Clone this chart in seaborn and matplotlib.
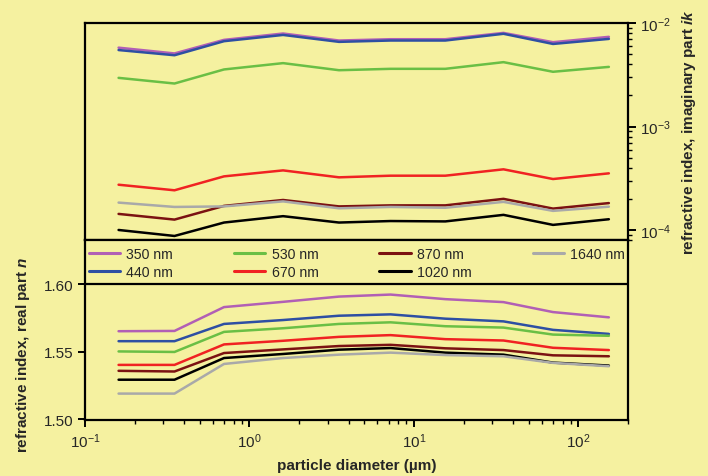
import numpy as np
import pandas as pd
import matplotlib
matplotlib.use("Agg")
import matplotlib.pyplot as plt
import seaborn as sns
from matplotlib.ticker import LogLocator, FixedLocator, FormatStrFormatter

# ---------------- data ----------------
diameter = [0.16, 0.35, 0.70, 1.6, 3.5, 7.2, 15.5, 35, 70, 153]
wavelengths = ["350 nm", "440 nm", "530 nm", "670 nm", "870 nm", "1020 nm", "1640 nm"]

k_350 = [5.8e-3, 5.1e-3, 6.9e-3, 7.95e-3, 6.8e-3, 7.0e-3, 7.0e-3, 8.06e-3, 6.55e-3, 7.38e-3]
k_440 = [5.5e-3, 4.9e-3, 6.7e-3, 7.7e-3, 6.6e-3, 6.8e-3, 6.8e-3, 7.9e-3, 6.3e-3, 7.05e-3]
k_530 = [2.96e-3, 2.61e-3, 3.57e-3, 4.11e-3, 3.51e-3, 3.62e-3, 3.62e-3, 4.2e-3, 3.39e-3, 3.78e-3]
k_670 = [2.74e-4, 2.42e-4, 3.3e-4, 3.77e-4, 3.23e-4, 3.35e-4, 3.35e-4, 3.86e-4, 3.11e-4, 3.53e-4]
k_870 = [1.43e-4, 1.26e-4, 1.71e-4, 1.95e-4, 1.69e-4, 1.73e-4, 1.73e-4, 2.0e-4, 1.61e-4, 1.82e-4]
k_1020 = [1.0e-4, 8.75e-5, 1.18e-4, 1.36e-4, 1.18e-4, 1.22e-4, 1.21e-4, 1.4e-4, 1.12e-4, 1.27e-4]
k_1640 = [1.84e-4, 1.67e-4, 1.69e-4, 1.89e-4, 1.62e-4, 1.67e-4, 1.64e-4, 1.87e-4, 1.53e-4, 1.68e-4]

n_350 = [1.5652, 1.5654, 1.5831, 1.5870, 1.5909, 1.5924, 1.5890, 1.5868, 1.5794, 1.5755]
n_440 = [1.5578, 1.5578, 1.5706, 1.5735, 1.5767, 1.5777, 1.5745, 1.5725, 1.5662, 1.5632]
n_530 = [1.5502, 1.5498, 1.5647, 1.5674, 1.5706, 1.5718, 1.5689, 1.5679, 1.5627, 1.5618]
n_670 = [1.5402, 1.5402, 1.5554, 1.5581, 1.5610, 1.5623, 1.5593, 1.5583, 1.5529, 1.5512]
n_870 = [1.5358, 1.5353, 1.5490, 1.5517, 1.5542, 1.5551, 1.5525, 1.5512, 1.5473, 1.5466]
n_1020 = [1.5292, 1.5292, 1.5453, 1.5483, 1.5515, 1.5527, 1.5493, 1.5478, 1.5419, 1.5397]
n_1640 = [1.5189, 1.5189, 1.5409, 1.5453, 1.5478, 1.5493, 1.5475, 1.5466, 1.5417, 1.5392]

colors = ["#b15fb5", "#2e4fa3", "#6abf45", "#f02222", "#7b1212", "#000000", "#a9a9a9"]

k_all = [k_350, k_440, k_530, k_670, k_870, k_1020, k_1640]
n_all = [n_350, n_440, n_530, n_670, n_870, n_1020, n_1640]

rows = []
for wl, ks, ns in zip(wavelengths, k_all, n_all):
    for d, k, n in zip(diameter, ks, ns):
        rows.append({"diameter": d, "wavelength": wl, "k": k, "n": n})
df = pd.DataFrame(rows)
palette = dict(zip(wavelengths, colors))

# ---------------- style ----------------
bg = "#f5f1a0"
sns.set_theme(style="ticks")
plt.rcParams["font.family"] = ["Liberation Sans", "DejaVu Sans"]
plt.rcParams["mathtext.fontset"] = "custom"
plt.rcParams["mathtext.rm"] = "Liberation Sans"
plt.rcParams["mathtext.it"] = "Liberation Sans:bold:italic"
plt.rcParams["mathtext.bf"] = "Liberation Sans:bold"

fig = plt.figure(figsize=(7.08, 4.77), dpi=100)
fig.patch.set_facecolor(bg)

L, R = 85 / 708, 628 / 708
top_up, bot_up = 1 - 24 / 477, 1 - 241 / 477
bot_lo = 1 - 421 / 477

ax_up = fig.add_axes([L, bot_up, R - L, top_up - bot_up])
ax_lo = fig.add_axes([L, bot_lo, R - L, bot_up - bot_lo])

for ax in (ax_up, ax_lo):
    ax.set_facecolor(bg)
    for s in ax.spines.values():
        s.set_color("black")
        s.set_linewidth(1.6)

# upper: imaginary part
sns.lineplot(data=df, x="diameter", y="k", hue="wavelength", palette=palette,
             hue_order=wavelengths, ax=ax_up, linewidth=1.8, legend=False,
             estimator=None, sort=False)
ax_up.set_xscale("log")
ax_up.set_yscale("log")
ax_up.set_xlim(0.1, 200)
ax_up.set_ylim(10 ** -4.097, 10 ** -1.998)
ax_up.yaxis.tick_right()
ax_up.yaxis.set_label_position("right")
ax_up.set_xticks([])
ax_up.xaxis.set_minor_locator(FixedLocator([]))
ax_up.yaxis.set_major_locator(LogLocator(base=10, numticks=10))
ax_up.yaxis.set_minor_locator(LogLocator(base=10, subs=np.arange(2, 10), numticks=10))
ax_up.tick_params(axis="y", which="major", direction="out", length=6, width=1.4,
                  labelsize=11, color="black", pad=3)
ax_up.tick_params(axis="y", which="minor", direction="out", length=3, width=1.0, color="black")
ax_up.set_xlabel("")
ax_up.set_ylabel("refractive index, imaginary part $ik$", fontsize=11,
                 fontweight="bold", labelpad=6)

# lower: real part
sns.lineplot(data=df, x="diameter", y="n", hue="wavelength", palette=palette,
             hue_order=wavelengths, ax=ax_lo, linewidth=1.8,
             estimator=None, sort=False)
ax_lo.set_xscale("log")
ax_lo.set_xlim(0.1, 200)
ax_lo.set_ylim(1.4993, 1.6329)
ax_lo.axhline(1.60, color="black", linewidth=1.6)
ax_lo.yaxis.set_major_locator(FixedLocator([1.50, 1.55, 1.60]))
ax_lo.yaxis.set_major_formatter(FormatStrFormatter("%.2f"))
ax_lo.xaxis.set_major_locator(LogLocator(base=10, numticks=10))
ax_lo.xaxis.set_minor_locator(LogLocator(base=10, subs=np.arange(2, 10), numticks=10))
ax_lo.tick_params(axis="both", which="major", direction="out", length=5, width=1.4,
                  labelsize=11, color="black", pad=3)
ax_lo.tick_params(axis="x", which="minor", direction="out", length=3, width=1.0, color="black")
ax_lo.set_xlabel("particle diameter (µm)", fontsize=11, fontweight="bold", labelpad=6)
ax_lo.set_ylabel("refractive index, real part $n$", fontsize=11, fontweight="bold")
ax_lo.yaxis.set_label_coords(-0.097, 0.37)

handles, labels = ax_lo.get_legend_handles_labels()
leg = ax_lo.legend(handles, labels, ncol=4, loc="upper left",
                   bbox_to_anchor=(-0.006, 1.0), frameon=False, fontsize=10.2,
                   handlelength=2.2, handletextpad=0.45, columnspacing=4.3,
                   labelspacing=0.3, borderpad=0.0, borderaxespad=0.5)
for h in leg.get_lines():
    h.set_linewidth(2.2)

fig.savefig("out.png", dpi=100, facecolor=bg)
